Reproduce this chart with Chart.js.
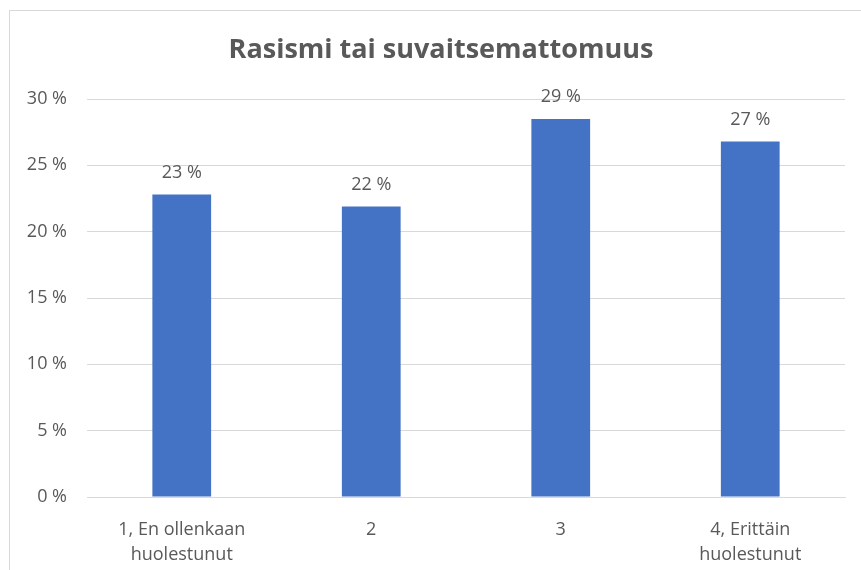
<!DOCTYPE html>
<html>
<head>
<meta charset="utf-8">
<script src="https://cdn.jsdelivr.net/npm/chart.js@4"></script>
<style>
  html, body { margin: 0; padding: 0; background: #fff; overflow: hidden; }
  #frame { position: absolute; left: 9px; top: 10px; width: 900px; height: 600px; border: 1px solid #d9d9d9; }
  #wrap { position: absolute; left: 0; top: 0; width: 861px; height: 570px; }
</style>
</head>
<body>
<div id="frame"></div>
<div id="wrap"><canvas id="chart"></canvas></div>
<script>
// ===================== DATA =====================

const chartTitle = 'Rasismi tai suvaitsemattomuus';
const categories = [['1, En ollenkaan', 'huolestunut'], '2', '3', ['4, Erittäin', 'huolestunut']];
const values     = [22.8, 21.9, 28.5, 26.8];
const valueLabels = ['23 %', '22 %', '29 %', '27 %'];
const yTicks     = [0, 5, 10, 15, 20, 25, 30];

const TEXT = '#595959';
const FONT = '"Open Sans", "Noto Sans", sans-serif';

// value labels above each bar + title centred on the chart frame
const barLabels = {
    id: 'barLabels',
    afterDatasetsDraw(chart) {
        const ctx = chart.ctx;
        const meta = chart.getDatasetMeta(0);
        ctx.save();
        ctx.font = '18px ' + FONT;
        ctx.fillStyle = TEXT;
        ctx.textAlign = 'center';
        ctx.textBaseline = 'middle';
        meta.data.forEach((bar, i) => {
            ctx.fillText(valueLabels[i], bar.x, bar.y - 22);
        });
        ctx.font = 'bold 27px ' + FONT;
        ctx.fillText(chartTitle, 441, 50);
        ctx.restore();
    }
};

new Chart(document.getElementById('chart'), {
    type: 'bar',
    data: {
        labels: categories,
        datasets: [{
            data: values,
            backgroundColor: '#4472c4',
            borderWidth: 0,
            barPercentage: 0.31,
            categoryPercentage: 1
        }]
    },
    options: {
        responsive: true,
        maintainAspectRatio: false,
        animation: false,
        layout: { padding: { left: 0, right: 16, top: 99, bottom: 0 } },
        plugins: {
            legend: { display: false },
            tooltip: { enabled: false },
            title: { display: false }
        },
        scales: {
            x: {
                grid: { display: false, drawTicks: false },
                border: { color: '#d9d9d9', width: 1 },
                ticks: {
                    color: TEXT,
                    font: { family: FONT, size: 18, lineHeight: 1.39 },
                    padding: 20,
                    maxRotation: 0,
                    autoSkip: false
                },
                afterFit(scale) { scale.height = 73; }
            },
            y: {
                min: 0,
                max: 30,
                afterBuildTicks(scale) { scale.ticks = yTicks.map(v => ({ value: v })); },
                grid: { color: '#d9d9d9', drawTicks: false },
                border: { display: false },
                ticks: {
                    color: TEXT,
                    font: { family: FONT, size: 18 },
                    padding: 20,
                    callback: v => v + ' %'
                },
                afterFit(scale) { scale.width = 87; }
            }
        }
    },
    plugins: [barLabels]
});
</script>
</body>
</html>
